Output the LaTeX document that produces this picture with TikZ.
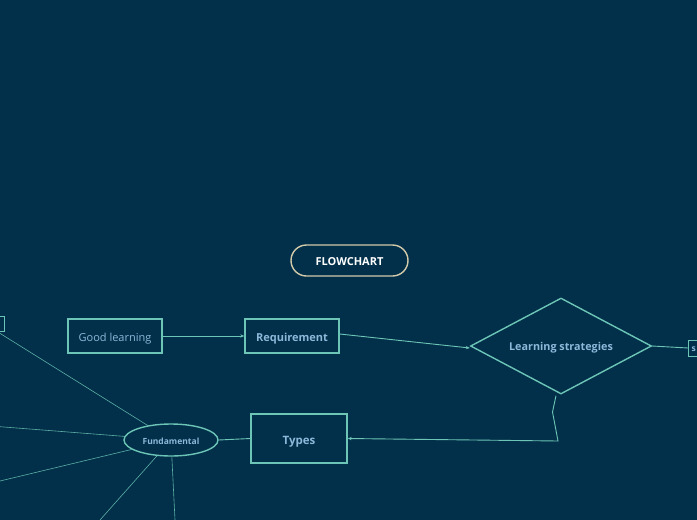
\documentclass[tikz,border=0pt]{standalone}
\usepackage{fontspec}
\setmainfont{Open Sans}
\usetikzlibrary{shapes.geometric,arrows.meta}
\definecolor{bg}{HTML}{02304A}
\definecolor{ln}{HTML}{6CC5B6}
\definecolor{tx}{HTML}{8DB8DA}
\definecolor{beige}{HTML}{D2C9A8}
\begin{document}
\begin{tikzpicture}[x=1pt,y=-1pt,
  box/.style={draw=ln,line width=1.4pt,rectangle,inner sep=0pt,text=tx,text depth=0pt},
  conn/.style={draw=ln,line width=0.9pt},
  ray/.style={draw=ln,line width=0.6pt,draw opacity=0.85},
  tip/.style={-{Stealth[length=4pt,width=3.2pt]}}]
\useasboundingbox (0,0) rectangle (697,520);
\fill[bg] (0,0) rectangle (697,520);
\clip (0,0) rectangle (697,520);
% nodes
\node[draw=beige,line width=1.4pt,rounded corners=15.5pt,minimum width=117pt,minimum height=31pt,inner sep=0pt,text=white,text height=9pt,text depth=0pt,font=\bfseries\fontsize{11}{11}\selectfont] (flow) at (349.5,260.5) {FLOWCHART};
\node[box,minimum width=94pt,minimum height=34pt,text height=10pt,font=\fontsize{11}{11}\selectfont] (good) at (115,336) {Good learning};
\node[box,minimum width=94pt,minimum height=34pt,text height=10pt,font=\bfseries\fontsize{11}{11}\selectfont] (req) at (292,336) {Requirement};
\node[box,diamond,aspect=1.885,minimum width=181pt,minimum height=96pt,text height=9.5pt,font=\bfseries\fontsize{10.8}{10.8}\selectfont] (ls) at (561,346) {Learning strategies};
\node[box,minimum width=96pt,minimum height=49pt,text height=12.5pt,font=\bfseries\fontsize{11.5}{11.5}\selectfont] (types) at (299,438.5) {Types};
\node[box,ellipse,minimum width=94pt,minimum height=32pt,text height=8.6pt,font=\bfseries\fontsize{8.5}{8.5}\selectfont] (fund) at (171,440) {Fundamental};
\node[box,line width=1pt,minimum width=14pt,minimum height=15pt] (lb) at (-3,323.5) {};
\node[box,line width=1pt,anchor=west,minimum height=16pt,text width=24pt,align=left,inner xsep=3pt,text height=7pt,font=\bfseries\fontsize{8.5}{8.5}\selectfont] (s) at (688,348) {s};
% free ends
\coordinate (c1) at (552.5,412);
\coordinate (c2) at (558,441);
\coordinate (e2) at (0,426.7);
\coordinate (e3) at (0,481);
\coordinate (e4) at (100,520);
\coordinate (e5) at (175,520);
% connectors
\draw[conn,tip] (good.east) -- (req.west);
\draw[conn,tip] ([yshift=2pt]req.east) -- ([yshift=-2pt]ls.west);
\draw[conn] (ls.east) -- (s.west);
\draw[conn,tip] ([xshift=-5pt,yshift=-1pt]ls.south) -- (c1) -- (c2) -- (types.east);
\draw[conn] (types.west) -- (fund.east);
\draw[ray] (fund) -- (lb.south);
\draw[ray] (fund) -- (e2);
\draw[ray] (fund) -- (e3);
\draw[ray] (fund) -- (e4);
\draw[ray] (fund) -- (e5);
\end{tikzpicture}
\end{document}
